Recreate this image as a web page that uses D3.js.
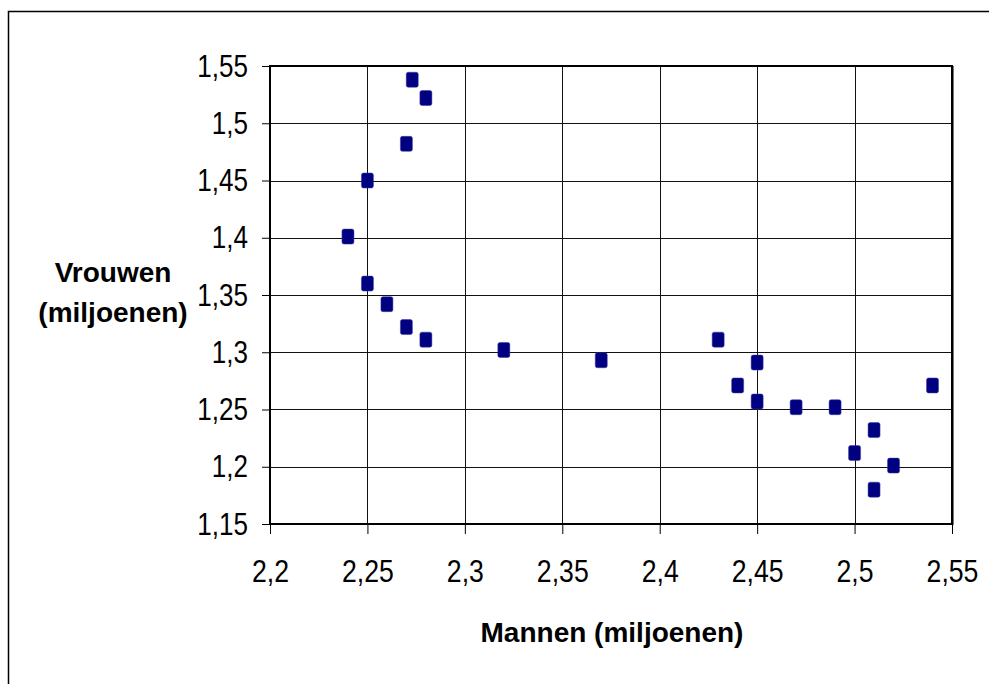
<!DOCTYPE html>
<html>
<head>
<meta charset="utf-8">
<script src="https://cdn.jsdelivr.net/npm/d3@7"></script>
<style>
  html, body { margin: 0; padding: 0; background: #fff; }
  svg { display: block; }
  text { font-family: "Liberation Sans", Arial, sans-serif; fill: #000; }
</style>
</head>
<body>
<div class="chart"></div>
<script>
// data: mannen (x) and vrouwen (y), miljoenen
const mannen = [2.273, 2.28, 2.27, 2.25, 2.24, 2.25, 2.26, 2.27, 2.28, 2.32, 2.37,
  2.43, 2.45, 2.44, 2.45, 2.47, 2.49, 2.54, 2.51, 2.5, 2.52, 2.51];
const vrouwen = [1.538, 1.522, 1.482, 1.45, 1.401, 1.36, 1.342, 1.322, 1.311, 1.302, 1.293,
  1.311, 1.291, 1.271, 1.257, 1.252, 1.252, 1.271, 1.232, 1.212, 1.201, 1.18];

const xTicks = [2.2, 2.25, 2.3, 2.35, 2.4, 2.45, 2.5, 2.55];
const xTickLabels = ["2,2", "2,25", "2,3", "2,35", "2,4", "2,45", "2,5", "2,55"];
const yTicks = [1.15, 1.2, 1.25, 1.3, 1.35, 1.4, 1.45, 1.5, 1.55];
const yTickLabels = ["1,15", "1,2", "1,25", "1,3", "1,35", "1,4", "1,45", "1,5", "1,55"];

const xTitle = "Mannen (miljoenen)";
const yTitle = ["Vrouwen", "(miljoenen)"];

const width = 989, height = 684;
const plot = { left: 270, top: 66, right: 952, bottom: 524 };
const squeezeX = 0.86, squeezeY = 0.84;

const svg = d3.select(".chart")
  .append("svg")
  .attr("width", width)
  .attr("height", height);

// outer frame
svg.append("rect")
  .attr("x", 8.5).attr("y", 11.5)
  .attr("width", 1000).attr("height", 700)
  .attr("fill", "#fff")
  .attr("stroke", "#000")
  .attr("stroke-width", 1.5);

const xScale = d3.scaleLinear().domain([2.2, 2.55]).range([plot.left, plot.right]);
const yScale = d3.scaleLinear().domain([1.15, 1.55]).range([plot.bottom, plot.top]);

// plot area background
svg.append("rect")
  .attr("x", plot.left).attr("y", plot.top)
  .attr("width", plot.right - plot.left)
  .attr("height", plot.bottom - plot.top)
  .attr("fill", "#fff");

// gridlines
svg.append("g")
  .selectAll("line")
  .data(xTicks)
  .enter()
  .append("line")
  .attr("x1", (d) => Math.round(xScale(d)) + 0.5)
  .attr("x2", (d) => Math.round(xScale(d)) + 0.5)
  .attr("y1", plot.top)
  .attr("y2", plot.bottom)
  .attr("stroke", "#111")
  .attr("stroke-width", 1);

svg.append("g")
  .selectAll("line")
  .data(yTicks)
  .enter()
  .append("line")
  .attr("y1", (d) => Math.round(yScale(d)) + 0.5)
  .attr("y2", (d) => Math.round(yScale(d)) + 0.5)
  .attr("x1", plot.left)
  .attr("x2", plot.right)
  .attr("stroke", "#111")
  .attr("stroke-width", 1);

// x axis
const xAxis = d3.axisBottom(xScale)
  .tickValues(xTicks)
  .tickSize(10)
  .tickSizeOuter(0)
  .tickFormat((d, i) => xTickLabels[i]);

const gx = svg.append("g")
  .attr("transform", "translate(0," + plot.bottom + ")")
  .call(xAxis);
gx.select(".domain").remove();
gx.selectAll(".tick line").attr("stroke", "#000").attr("stroke-width", 1);
gx.selectAll(".tick text")
  .attr("y", 58)
  .attr("dy", null)
  .attr("transform", "scale(" + squeezeX + ",1)")
  .style("font-size", "31px");

// y axis
const yAxis = d3.axisLeft(yScale)
  .tickValues(yTicks)
  .tickSize(8)
  .tickSizeOuter(0)
  .tickFormat((d, i) => yTickLabels[i]);

const gy = svg.append("g")
  .attr("transform", "translate(" + plot.left + ",0)")
  .call(yAxis);
gy.select(".domain").remove();
gy.selectAll(".tick line").attr("stroke", "#000").attr("stroke-width", 1);
gy.selectAll(".tick text")
  .attr("x", -22 / squeezeY)
  .attr("y", 10)
  .attr("dy", null)
  .attr("transform", "scale(" + squeezeY + ",1)")
  .style("font-size", "31px");

// plot frame
svg.append("rect")
  .attr("x", plot.left).attr("y", plot.top)
  .attr("width", plot.right - plot.left)
  .attr("height", plot.bottom - plot.top)
  .attr("fill", "none")
  .attr("stroke", "#000")
  .attr("stroke-width", 2);
svg.append("line")
  .attr("x1", plot.right + 1.5).attr("x2", plot.right + 1.5)
  .attr("y1", plot.top).attr("y2", plot.bottom + 1)
  .attr("stroke", "#777")
  .attr("stroke-width", 1);

// markers
svg.append("g")
  .selectAll("rect")
  .data(mannen)
  .enter()
  .append("rect")
  .attr("x", (d) => xScale(d) - 6)
  .attr("y", (d, i) => yScale(vrouwen[i]) - 7.5)
  .attr("width", 12)
  .attr("height", 15)
  .attr("rx", 2)
  .attr("fill", "#000080")
  .attr("stroke", "#3a3aa0")
  .attr("stroke-width", 0.5);

// axis titles
svg.append("text")
  .attr("x", 612)
  .attr("y", 642)
  .attr("text-anchor", "middle")
  .style("font-size", "28px")
  .style("font-weight", "bold")
  .text(xTitle);

svg.append("text")
  .attr("text-anchor", "middle")
  .style("font-size", "28px")
  .style("font-weight", "bold")
  .selectAll("tspan")
  .data(yTitle)
  .enter()
  .append("tspan")
  .attr("x", 113)
  .attr("y", (d, i) => 282 + i * 40)
  .text((d) => d);
</script>
</body>
</html>
